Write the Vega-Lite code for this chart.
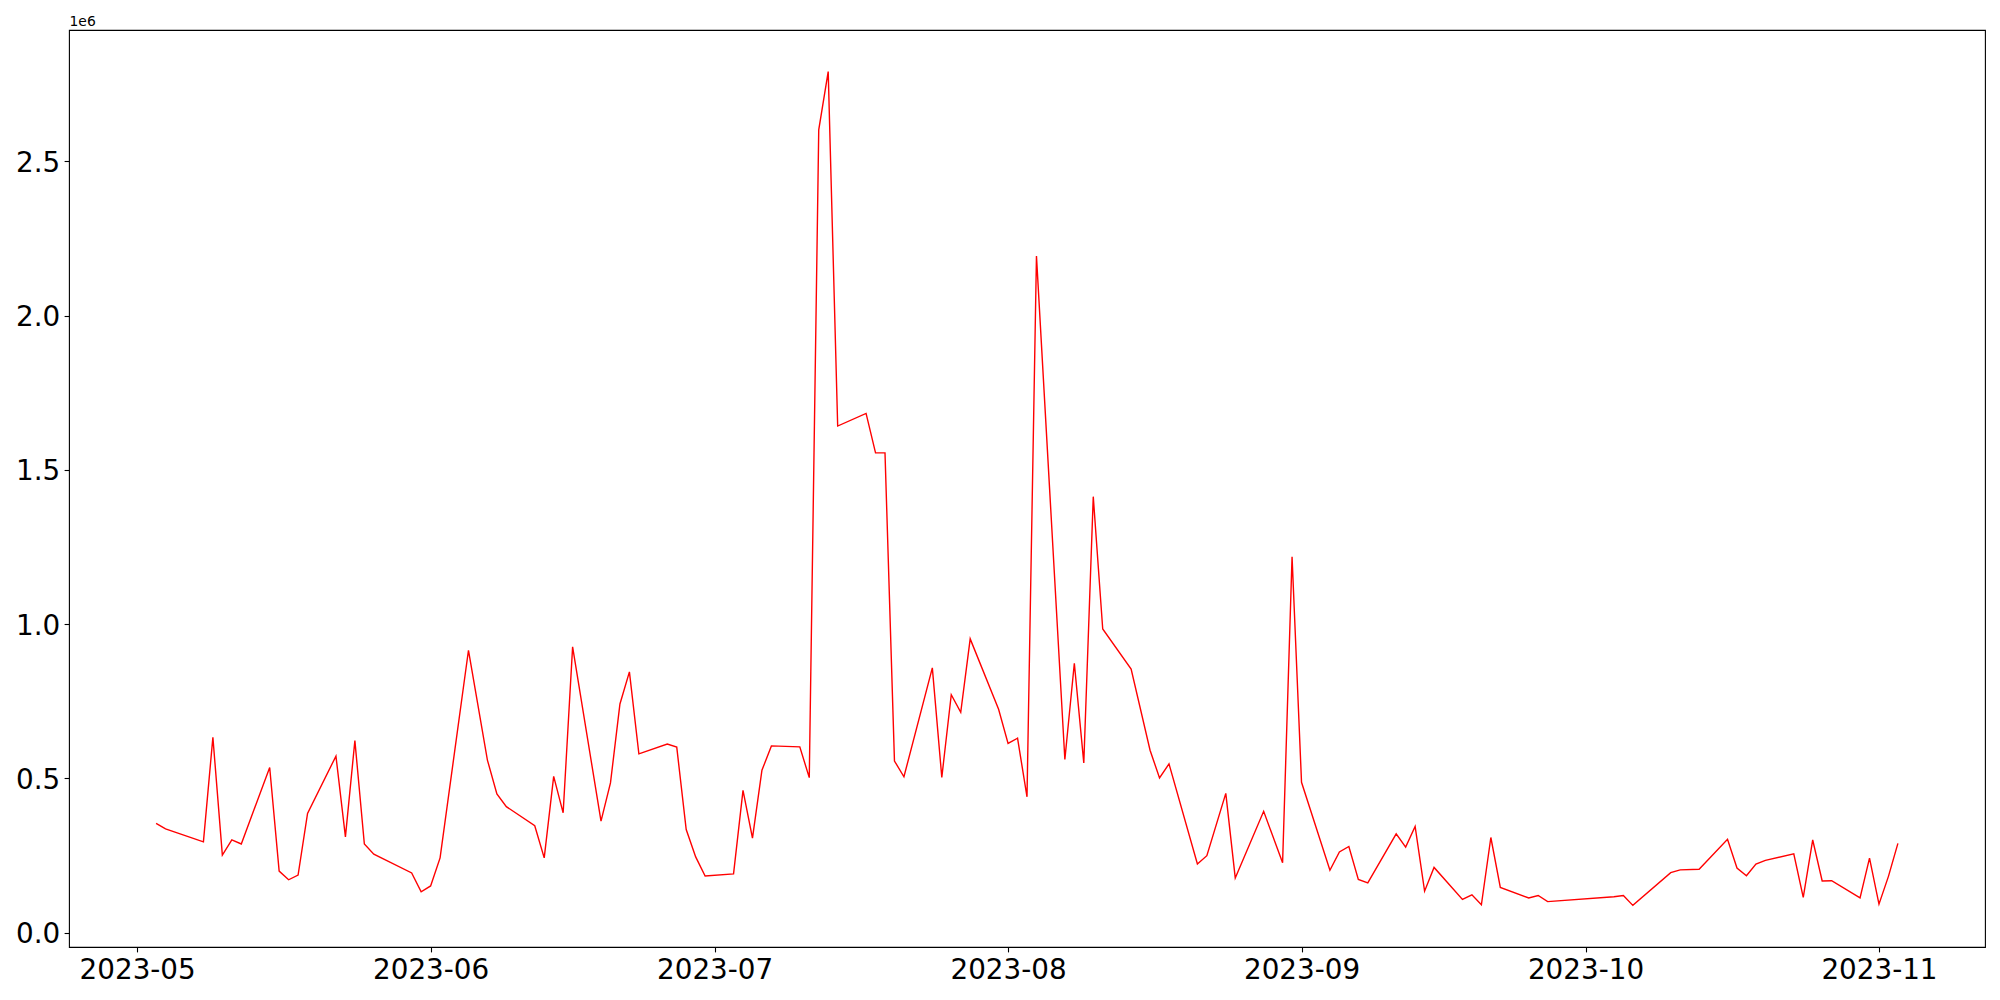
{
  "$schema": "https://vega.github.io/schema/vega-lite/v6.json",
  "width": 1916,
  "height": 917,
  "autosize": {"type": "none"},
  "padding": {"left": 69, "top": 30, "right": 15, "bottom": 53},
  "background": "white",
  "config": {
    "font": "DejaVu Sans",
    "view": {"stroke": "black", "strokeWidth": 1.1},
    "axis": {
      "domain": false,
      "grid": false,
      "ticks": true,
      "tickColor": "black",
      "tickSize": 4.9,
      "tickWidth": 1.1,
      "labelFont": "DejaVu Sans",
      "labelFontSize": 27.8,
      "labelColor": "black",
      "labelPadding": 4.4,
      "labelFlush": false,
      "labelOverlap": false,
      "labelBound": false
    }
  },
  "data": {
    "values": [
      {"date": "2023-05-03", "value": 354000},
      {"date": "2023-05-04", "value": 336000},
      {"date": "2023-05-08", "value": 294000},
      {"date": "2023-05-09", "value": 633000},
      {"date": "2023-05-10", "value": 251000},
      {"date": "2023-05-11", "value": 300000},
      {"date": "2023-05-12", "value": 287000},
      {"date": "2023-05-15", "value": 535000},
      {"date": "2023-05-16", "value": 199000},
      {"date": "2023-05-17", "value": 171000},
      {"date": "2023-05-18", "value": 186000},
      {"date": "2023-05-19", "value": 386000},
      {"date": "2023-05-22", "value": 572000},
      {"date": "2023-05-23", "value": 310000},
      {"date": "2023-05-24", "value": 622000},
      {"date": "2023-05-25", "value": 287000},
      {"date": "2023-05-26", "value": 254000},
      {"date": "2023-05-30", "value": 193000},
      {"date": "2023-05-31", "value": 132000},
      {"date": "2023-06-01", "value": 151000},
      {"date": "2023-06-02", "value": 242000},
      {"date": "2023-06-05", "value": 915000},
      {"date": "2023-06-07", "value": 559000},
      {"date": "2023-06-08", "value": 449000},
      {"date": "2023-06-09", "value": 408000},
      {"date": "2023-06-12", "value": 346000},
      {"date": "2023-06-13", "value": 242000},
      {"date": "2023-06-14", "value": 506000},
      {"date": "2023-06-15", "value": 388000},
      {"date": "2023-06-16", "value": 926000},
      {"date": "2023-06-19", "value": 361000},
      {"date": "2023-06-20", "value": 485000},
      {"date": "2023-06-21", "value": 741000},
      {"date": "2023-06-22", "value": 845000},
      {"date": "2023-06-23", "value": 579000},
      {"date": "2023-06-26", "value": 611000},
      {"date": "2023-06-27", "value": 601000},
      {"date": "2023-06-28", "value": 334000},
      {"date": "2023-06-29", "value": 245000},
      {"date": "2023-06-30", "value": 183000},
      {"date": "2023-07-03", "value": 190000},
      {"date": "2023-07-04", "value": 461000},
      {"date": "2023-07-05", "value": 306000},
      {"date": "2023-07-06", "value": 526000},
      {"date": "2023-07-07", "value": 605000},
      {"date": "2023-07-10", "value": 602000},
      {"date": "2023-07-11", "value": 502000},
      {"date": "2023-07-12", "value": 2602000},
      {"date": "2023-07-13", "value": 2791000},
      {"date": "2023-07-14", "value": 1642000},
      {"date": "2023-07-17", "value": 1683000},
      {"date": "2023-07-18", "value": 1555000},
      {"date": "2023-07-19", "value": 1555000},
      {"date": "2023-07-20", "value": 556000},
      {"date": "2023-07-21", "value": 505000},
      {"date": "2023-07-24", "value": 858000},
      {"date": "2023-07-25", "value": 503000},
      {"date": "2023-07-26", "value": 771000},
      {"date": "2023-07-27", "value": 714000},
      {"date": "2023-07-28", "value": 952000},
      {"date": "2023-07-31", "value": 724000},
      {"date": "2023-08-01", "value": 613000},
      {"date": "2023-08-02", "value": 630000},
      {"date": "2023-08-03", "value": 440000},
      {"date": "2023-08-04", "value": 2193000},
      {"date": "2023-08-07", "value": 561000},
      {"date": "2023-08-08", "value": 873000},
      {"date": "2023-08-09", "value": 550000},
      {"date": "2023-08-10", "value": 1413000},
      {"date": "2023-08-11", "value": 984000},
      {"date": "2023-08-14", "value": 854000},
      {"date": "2023-08-16", "value": 591000},
      {"date": "2023-08-17", "value": 501000},
      {"date": "2023-08-18", "value": 547000},
      {"date": "2023-08-21", "value": 222000},
      {"date": "2023-08-22", "value": 249000},
      {"date": "2023-08-24", "value": 451000},
      {"date": "2023-08-25", "value": 177000},
      {"date": "2023-08-28", "value": 393000},
      {"date": "2023-08-30", "value": 226000},
      {"date": "2023-08-31", "value": 1218000},
      {"date": "2023-09-01", "value": 487000},
      {"date": "2023-09-04", "value": 202000},
      {"date": "2023-09-05", "value": 261000},
      {"date": "2023-09-06", "value": 279000},
      {"date": "2023-09-07", "value": 172000},
      {"date": "2023-09-08", "value": 161000},
      {"date": "2023-09-11", "value": 320000},
      {"date": "2023-09-12", "value": 277000},
      {"date": "2023-09-13", "value": 344000},
      {"date": "2023-09-14", "value": 134000},
      {"date": "2023-09-15", "value": 211000},
      {"date": "2023-09-18", "value": 107000},
      {"date": "2023-09-19", "value": 122000},
      {"date": "2023-09-20", "value": 90000},
      {"date": "2023-09-21", "value": 308000},
      {"date": "2023-09-22", "value": 146000},
      {"date": "2023-09-25", "value": 112000},
      {"date": "2023-09-26", "value": 120000},
      {"date": "2023-09-27", "value": 100000},
      {"date": "2023-10-04", "value": 116000},
      {"date": "2023-10-05", "value": 120000},
      {"date": "2023-10-06", "value": 88000},
      {"date": "2023-10-10", "value": 194000},
      {"date": "2023-10-11", "value": 203000},
      {"date": "2023-10-13", "value": 205000},
      {"date": "2023-10-16", "value": 302000},
      {"date": "2023-10-17", "value": 209000},
      {"date": "2023-10-18", "value": 184000},
      {"date": "2023-10-19", "value": 222000},
      {"date": "2023-10-20", "value": 234000},
      {"date": "2023-10-23", "value": 255000},
      {"date": "2023-10-24", "value": 114000},
      {"date": "2023-10-25", "value": 300000},
      {"date": "2023-10-26", "value": 167000},
      {"date": "2023-10-27", "value": 168000},
      {"date": "2023-10-30", "value": 112000},
      {"date": "2023-10-31", "value": 241000},
      {"date": "2023-11-01", "value": 92000},
      {"date": "2023-11-02", "value": 182000},
      {"date": "2023-11-03", "value": 289000}
    ]
  },
  "mark": {"type": "line", "color": "#ff0000", "strokeWidth": 1.4, "interpolate": "linear"},
  "encoding": {
    "x": {
      "field": "date",
      "type": "temporal",
      "scale": {
        "type": "utc",
        "nice": false,
        "domain": [
          {"year": 2023, "month": 4, "date": 23, "hours": 19, "minutes": 12, "utc": true},
          {"year": 2023, "month": 11, "date": 12, "hours": 4, "minutes": 48, "utc": true}
        ]
      },
      "axis": {
        "title": null,
        "values": [
          {"year": 2023, "month": 5, "date": 1, "utc": true},
          {"year": 2023, "month": 6, "date": 1, "utc": true},
          {"year": 2023, "month": 7, "date": 1, "utc": true},
          {"year": 2023, "month": 8, "date": 1, "utc": true},
          {"year": 2023, "month": 9, "date": 1, "utc": true},
          {"year": 2023, "month": 10, "date": 1, "utc": true},
          {"year": 2023, "month": 11, "date": 1, "utc": true}
        ],
        "labelExpr": "utcFormat(datum.value, '%Y-%m')",
        "labelBaseline": "top"
      }
    },
    "y": {
      "field": "value",
      "type": "quantitative",
      "scale": {"domain": [-47000, 2926000], "nice": false, "zero": false},
      "axis": {
        "values": [0, 500000, 1000000, 1500000, 2000000, 2500000],
        "labelExpr": "format(datum.value / 1000000, '.1f')",
        "labelBaseline": "alphabetic",
        "labelOffset": 10,
        "title": "1e6",
        "titleAngle": 0,
        "titleX": 0,
        "titleY": -4.6,
        "titleAlign": "left",
        "titleBaseline": "alphabetic",
        "titleFontSize": 13.9,
        "titleFontWeight": "normal",
        "titleFont": "DejaVu Sans",
        "titleColor": "black"
      }
    }
  }
}
